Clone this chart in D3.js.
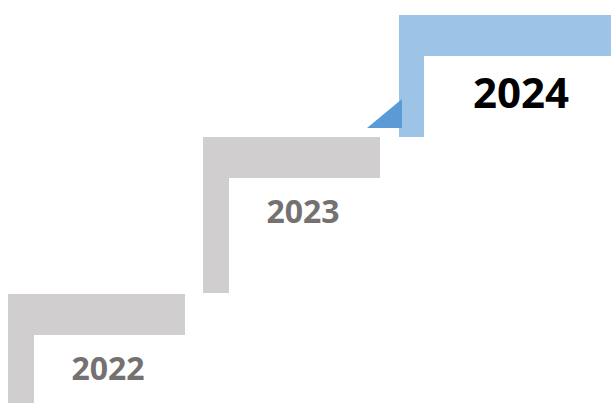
<!DOCTYPE html>
<html><head><meta charset="utf-8">
<script src="https://cdn.jsdelivr.net/npm/d3@7"></script>
<style>html,body{margin:0;padding:0;background:#fff;overflow:hidden}</style>
</head><body>
<svg id="c" width="611" height="403"></svg>
<script>
const years = ["2022", "2023", "2024"];
const levels = [1, 2, 3];
const highlight = [false, false, true];

const W = 611, H = 403;
const svg = d3.select("#c");

const x = d3.scaleOrdinal().domain(levels).range([8, 203, 399]);
const yTop = d3.scaleOrdinal().domain(levels).range([294, 137, 15]);
const yBottom = d3.scaleOrdinal().domain(levels).range([H, 293, 137]);

const data = years.map((y, i) => ({year: y, level: levels[i], hi: highlight[i]}));

const g = svg.selectAll("g.step").data(data).join("g").attr("class", "step");

// horizontal tread
g.append("rect")
  .attr("x", d => x(d.level))
  .attr("y", d => yTop(d.level))
  .attr("width", d => d.hi ? W - x(d.level) : 177)
  .attr("height", 41)
  .attr("fill", d => d.hi ? "#9DC3E6" : "#D0CECE");

// vertical riser
g.append("rect")
  .attr("x", d => x(d.level))
  .attr("y", d => yTop(d.level))
  .attr("width", d => d.hi ? 25 : 26)
  .attr("height", d => yBottom(d.level) - yTop(d.level))
  .attr("fill", d => d.hi ? "#9DC3E6" : "#D0CECE");

// accent triangle on highlighted step
g.filter(d => d.hi).append("path")
  .attr("d", d => {
    const bx = x(d.level), by = yBottom(d.level);
    return `M${bx - 32},${by - 9} L${bx + 3},${by - 38} L${bx + 3},${by - 9} Z`;
  })
  .attr("fill", "#5B9BD5");

// labels
g.append("text")
  .attr("x", d => x(d.level) + (d.hi ? 122 : 100))
  .attr("y", d => yTop(d.level) + (d.hi ? 93 : 86))
  .attr("text-anchor", "middle")
  .attr("font-family", "'Open Sans', sans-serif")
  .attr("font-weight", "bold")
  .attr("font-size", d => d.hi ? 42 : 32)
  .attr("fill", d => d.hi ? "#000000" : "#767171")
  .text(d => d.year);
</script>
</body></html>
